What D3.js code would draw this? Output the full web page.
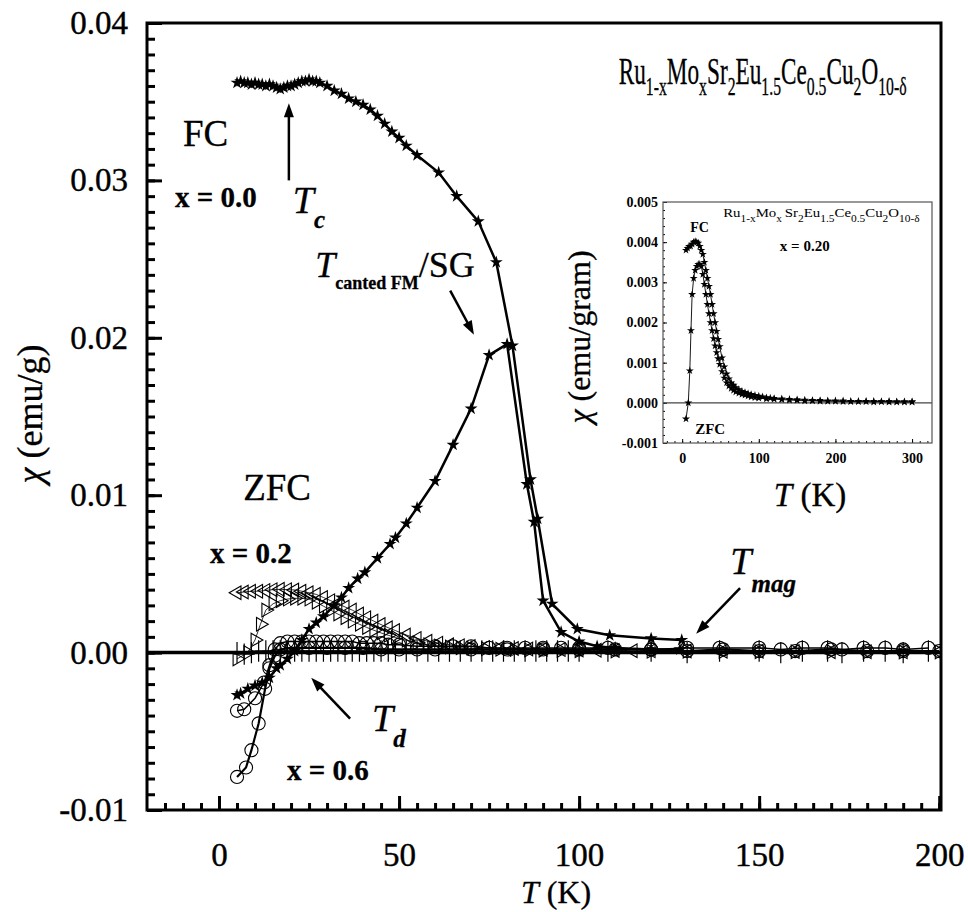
<!DOCTYPE html>
<html>
<head>
<meta charset="utf-8">
<script src="https://cdn.jsdelivr.net/npm/d3@7"></script>
<style>
  body { margin: 0; background: #fff; }
</style>
</head>
<body>
<script>
// x = 0.0, field cooled (stars)
var fc0T = [5,6,7,8,9,10,11,12,13,14,15,16,17,18,19,20,21,22,23,24,25,26,27,28,
            30,32,34,36,38,40,42,44,46,48,50,52,
            55,61,66,72,77,81.5,86.5,88.5,92.5,99.5,108.5,120,128.5];
var fc0V = [0.0362,0.0363,0.0362,0.0362,0.0361,0.0362,0.0361,0.0361,0.0360,0.0361,0.0360,0.0359,0.0358,0.0359,0.0360,0.0360,0.0361,0.0362,0.0363,0.0363,0.0364,0.0363,0.0363,0.0362,
            0.0360,0.0357,0.0355,0.0352,0.0350,0.0348,0.0345,0.0341,0.0336,0.0331,0.0327,0.0322,
            0.0316,0.0305,0.0290,0.0274,0.0248,0.0195,0.0110,0.0085,0.0031,0.0015,0.0011,0.0009,0.0008];
// x = 0.0, zero field cooled (stars)
var zfc0T = [5,6,8,10,12,14,16,17,19,21,23,25,27,29,32,34,36,38.5,40.5,44,
             47.5,49,52,55,60,65,70,75,80,85.5,87.5,90,95,100,105,110,120,128];
var zfc0V = [-0.0027,-0.0026,-0.0023,-0.0021,-0.0019,-0.0016,-0.0010,-0.0008,-0.0004,0.0001,
             0.0008,0.0015,0.0019,0.0023,0.0030,0.0035,0.0041,0.0047,0.0051,0.0060,
             0.0069,0.0073,0.0082,0.0092,0.0109,0.0132,0.0155,0.0189,0.0196,0.0107,
             0.0083,0.0033,0.0013,0.0007,0.0004,0.0003,0.0002,0.0002];
// x = 0.2, FC (left triangles in main plot, stars in inset)
var fc2T = [5,7,9,11,13,15,17,19,21,23,25,27,29,31,33,35,37,39,41,43,45,47,49,52,55,58,61,64,67,70,
            74,78,82,86,90,95,100,105,110,115,120,130,140,150,160,170,180,190,200,210,
            220,230,240,250,260,270,280,290,300];
var fc2V = [0.00380,0.00385,0.00390,0.00390,0.00395,0.00400,0.00402,0.00400,0.00398,0.00390,
            0.00380,0.00370,0.00350,0.00330,0.00310,0.00290,0.00270,0.00245,0.00222,0.00200,
            0.00178,0.00158,0.00140,0.00112,0.00090,0.00072,0.00060,0.00050,0.00044,0.00038,
            0.00033,0.00029,0.00026,0.00023,0.00021,0.00019,0.00017,0.00015,0.00013,0.00012,
            0.00011,0.00010,0.00009,0.00008,0.00007,0.00006,0.00006,0.00005,0.00005,0.00005,
            0.00004,0.00004,0.00004,0.00004,0.00003,0.00004,0.00003,0.00003,0.00003];
// x = 0.2, ZFC (right triangles in main plot, stars in inset)
var zfc2T = [5,8,10,11.5,13,15,17,19,21,23,25,27,29,31,33,35,37,39,41,43,45,47,49,52,55,58,61,64,67,70,
             74,78,82,86,90,95,100,110,120,130,140,150,160,170,180,190,200,210,220,230,
             240,250,260,270,280,290,300];
var zfc2V = [-0.00040,0.00000,0.00080,0.00180,0.00270,0.00310,0.00330,0.00340,0.00345,0.00345,
             0.00340,0.00320,0.00295,0.00270,0.00245,0.00222,0.00200,0.00180,0.00160,0.00142,
             0.00125,0.00110,0.00096,0.00078,0.00062,0.00050,0.00042,0.00036,0.00031,0.00027,
             0.00024,0.00021,0.00019,0.00017,0.00015,0.00013,0.00012,0.00010,0.00009,0.00008,
             0.00007,0.00006,0.00005,0.00005,0.00004,0.00004,0.00004,0.00003,0.00003,0.00003,
             0.00003,0.00002,0.00003,0.00002,0.00002,0.00002,0.00002];
// x = 0.6, FC (open circles)
var fc6T = [5,7,10,12.5,14,15.5,17,19,21,23,25,27,29,31,33,35,37,39,41,43,45,47,50,55,60,65,70,75,80,85,
            90,95,100,108,120,130,139,150,156,162,169,173,179,185,190,197];
var fc6V = [-0.0037,-0.0036,-0.0029,-0.0019,-0.0008,0.0002,0.0006,0.0007,0.0007,0.0007,
            0.0007,0.0007,0.0007,0.0007,0.0007,0.0007,0.0007,0.0006,0.0006,0.0006,
            0.0006,0.0005,0.0005,0.0004,0.0004,0.0004,0.0004,0.0003,0.0003,0.0003,
            0.0003,0.0003,0.0003,0.0003,0.0002,0.0003,0.0003,0.0003,0.0002,0.0003,
            0.0003,0.0002,0.0003,0.0003,0.0002,0.0003];
// x = 0.6, ZFC (open circles)
var zfc6T = [5,7.5,9,11,12.8,14,15.5,17,20,25,30,35,40,45,50,55,60,70,80,90,100,110,120,130,140,150,160,170,180,190,200];
var zfc6V = [-0.0079,-0.0073,-0.0062,-0.0045,-0.0023,-0.0010,-0.0002,0.0002,0.0003,0.0003,
             0.0003,0.0003,0.0003,0.0002,0.0002,0.0002,0.0002,0.0002,0.0002,0.0002,
             0.0002,0.0002,0.0002,0.0001,0.0002,0.0001,0.0001,0.0002,0.0001,0.0001,0.0001];
// crosses lying on the zero line
var crossT = [5,7,9,11,13,15,17,19,21,23,25,27,29,31,33,35,37,39,41,43,45,47,49,
              52,55,58,61,64,67,70,73,76,79,82,85,88,91,94,97,100,
              108,120,130,139,150,156,162,169,173,179,185,190,197];
var crossV = [0.0000,-0.0001,0.0000,0.0001,0.0001,0.0001,0.0001,0.0001,0.0001,0.0001,0.0001,0.0001,0.0001,
              0.0001,0.0001,0.0001,0.0001,0.0001,0.0001,0.0001,0.0001,0.0001,0.0001,
              0.0001,0.0001,0.0001,0.0001,0.0001,0.0001,0.0001,0.0001,0.0001,0.0001,0.0001,0.0001,0.0001,0.0001,0.0001,0.0001,0.0001,
              0.0001,0.0001,0.0000,0.0001,0.0001,0.0000,0.0001,0.0001,0.0000,0.0001,0.0001,0.0000,0.0001];

// ticks
var xTicks = [0, 50, 100, 150, 200];
var xTickLabels = ["0", "50", "100", "150", "200"];
var yTicks = [-0.01, 0, 0.01, 0.02, 0.03, 0.04];
var yTickLabels = ["-0.01", "0.00", "0.01", "0.02", "0.03", "0.04"];
var insetXTicks = [0, 100, 200, 300];
var insetXTickLabels = ["0", "100", "200", "300"];
var insetYTicks = [-0.001, 0, 0.001, 0.002, 0.003, 0.004, 0.005];
var insetYTickLabels = ["-0.001", "0.000", "0.001", "0.002", "0.003", "0.004", "0.005"];

var FONT = "Liberation Serif";

var svg = d3.select("body").append("svg").attr("width", 968).attr("height", 912)
  .attr("font-family", FONT);

var x = d3.scaleLinear().domain([-20, 200.5]).range([147, 941]);
var y = d3.scaleLinear().domain([-0.01, 0.04]).range([810, 23]);

function pairs(T, V) { return T.map(function(t, i) { return [t, V[i]]; }); }

function series(g, T, V, sx, sy, o) {
  var pts = pairs(T, V);
  if (o.line) {
    g.append("path").datum(pts)
      .attr("fill", "none").attr("stroke", "#000").attr("stroke-width", o.line)
      .attr("d", d3.line().x(function(d) { return sx(d[0]); }).y(function(d) { return sy(d[1]); }));
  }
  g.selectAll(null).data(pts).join("path")
    .attr("transform", function(d) { return "translate(" + sx(d[0]) + "," + sy(d[1]) + ") rotate(" + (o.rot || 0) + ")"; })
    .attr("d", o.sym)
    .attr("fill", o.fill || "#000")
    .attr("stroke", o.stroke || "none")
    .attr("stroke-width", o.sw || 0);
}

function rich(g, px, py, size, parts) {
  var t = g.append("text").attr("x", px).attr("y", py)
    .attr("font-family", FONT).attr("font-size", size).attr("fill", "#000");
  var cur = 0;
  parts.forEach(function(p) {
    var off = p.sub || 0;
    var s = t.append("tspan").text(p.t).attr("dy", off - cur);
    cur = off;
    if (p.size) s.attr("font-size", p.size);
    if (p.it) s.attr("font-style", "italic");
    if (p.b) s.attr("font-weight", "bold");
  });
  return t;
}

function fitWidth(t, w) {
  var bb = t.node().getBBox();
  var k = w / bb.width;
  t.attr("transform", "translate(" + bb.x + ",0) scale(" + k + ",1) translate(" + (-bb.x) + ",0)");
}

function arrow(g, x1, y1, x2, y2, lw) {
  var a = Math.atan2(y2 - y1, x2 - x1), L = 14, w = 5;
  var c = Math.cos(a), s = Math.sin(a);
  g.append("line").attr("x1", x1).attr("y1", y1).attr("x2", x2 - L * 0.7 * c).attr("y2", y2 - L * 0.7 * s)
    .attr("stroke", "#000").attr("stroke-width", lw || 2.5);
  g.append("path")
    .attr("d", "M" + x2 + "," + y2 +
      "L" + (x2 - L * c + w * s) + "," + (y2 - L * s - w * c) +
      "L" + (x2 - L * c - w * s) + "," + (y2 - L * s + w * c) + "Z")
    .attr("fill", "#000");
}

// ---------- main axes ----------
var gx = svg.append("g").attr("transform", "translate(0,810)");
gx.append("g").call(d3.axisBottom(x).tickValues(d3.range(-15, 201, 5)).tickSize(-7).tickFormat(""));
gx.append("g").call(d3.axisBottom(x).tickValues(xTicks).tickSize(-14).tickPadding(33)
  .tickFormat(function(d, i) { return xTickLabels[i]; }));

var gy = svg.append("g").attr("transform", "translate(147,0)");
gy.append("g").call(d3.axisLeft(y).tickValues(d3.range(-10, 41).map(function(v) { return v / 1000; })).tickSize(-8).tickFormat(""));
gy.append("g").call(d3.axisLeft(y).tickValues(yTicks).tickSize(-15).tickPadding(19)
  .tickFormat(function(d, i) { return yTickLabels[i]; }));

svg.selectAll(".domain").remove();
svg.selectAll("g").attr("font-family", FONT);
svg.selectAll(".tick line").attr("stroke", "#000").attr("stroke-width", 3);
svg.selectAll(".tick text").attr("font-family", FONT).attr("font-size", 33)
  .attr("stroke", "#000").attr("stroke-width", 0.4);

// axis titles
rich(svg, 0, 0, 36, [{t: "χ", it: true}, {t: " (emu/g)"}])
  .attr("transform", "translate(42,414) rotate(-90)").attr("text-anchor", "middle")
  .attr("stroke", "#000").attr("stroke-width", 0.3);
rich(svg, 556, 903, 32, [{t: "T", it: true}, {t: " (K)"}])
  .attr("text-anchor", "middle").attr("stroke", "#000").attr("stroke-width", 0.3);

// ---------- main data ----------
svg.append("clipPath").attr("id", "clipMain").append("rect")
  .attr("x", 147).attr("y", 23).attr("width", 794).attr("height", 787);
var plot = svg.append("g").attr("clip-path", "url(#clipMain)");

plot.append("line").attr("x1", x(-20)).attr("x2", x(200.5)).attr("y1", y(0)).attr("y2", y(0))
  .attr("stroke", "#000").attr("stroke-width", 3.5);

var starMain = d3.symbol().type(d3.symbolStar).size(52)();
var triMain = d3.symbol().type(d3.symbolTriangle).size(80)();
var circMain = d3.symbol().type(d3.symbolCircle).size(135)();
var plusMain = d3.symbol().type(d3.symbolPlus).size(150)();

series(plot, crossT, crossV, x, y, {sym: plusMain, fill: "none", stroke: "#000", sw: 1.2});
series(plot, zfc6T, zfc6V, x, y, {sym: circMain, fill: "none", stroke: "#000", sw: 1.1, line: 2.2});
series(plot, fc6T, fc6V, x, y, {sym: circMain, fill: "none", stroke: "#000", sw: 1.1, line: 1.5});
series(plot, zfc2T, zfc2V, x, y, {sym: triMain, rot: 90, fill: "none", stroke: "#000", sw: 1.1, line: 0.8});
series(plot, fc2T, fc2V, x, y, {sym: triMain, rot: -90, fill: "none", stroke: "#000", sw: 1.1, line: 0.8});
series(plot, zfc0T, zfc0V, x, y, {sym: starMain, line: 2.5});
series(plot, fc0T, fc0V, x, y, {sym: starMain, line: 2.5});

// frame
svg.append("rect").attr("x", 147).attr("y", 23).attr("width", 794).attr("height", 787)
  .attr("fill", "none").attr("stroke", "#000").attr("stroke-width", 3);

// ---------- annotations ----------
var ann = svg.append("g").attr("stroke", "#000").attr("stroke-width", 0.3);
var formula = rich(ann, x(111), y(0.0361), 37, [
  {t: "Ru"}, {t: "1-x", sub: 11, size: 25}, {t: "Mo"}, {t: "x", sub: 11, size: 25},
  {t: "Sr"}, {t: "2", sub: 11, size: 25}, {t: "Eu"}, {t: "1.5", sub: 11, size: 25},
  {t: "Ce"}, {t: "0.5", sub: 11, size: 25}, {t: "Cu"}, {t: "2", sub: 11, size: 25},
  {t: "O"}, {t: "10-δ", sub: 11, size: 25}]);
fitWidth(formula, 288);

rich(ann, x(-10), y(0.0322), 37, [{t: "FC"}]);
rich(ann, x(-12.2), y(0.0283), 29, [{t: "x = 0.0", b: true}]);
rich(ann, x(20.5), y(0.0279), 38, [{t: "T", it: true}, {t: "c", it: true, b: true, sub: 15, size: 25}]);
arrow(svg, x(19.4), y(0.0300), x(19.4), y(0.0349), 2.5);

rich(ann, x(26.7), y(0.02385), 36, [{t: "T", it: true},
  {t: "canted FM", b: true, sub: 12, size: 18}, {t: "/SG"}]);
arrow(svg, x(64.2), y(0.0230), x(70.8), y(0.0202), 2.5);

rich(ann, x(6.7), y(0.0097), 37, [{t: "ZFC"}]);
rich(ann, x(-2.5), y(0.0057), 29, [{t: "x = 0.2", b: true}]);
rich(ann, x(18.9), y(-0.0081), 29, [{t: "x = 0.6", b: true}]);

rich(ann, x(42.5), y(-0.0050), 38, [{t: "T", it: true}, {t: "d", it: true, b: true, sub: 16, size: 25}]);
arrow(svg, x(36.4), y(-0.0042), x(25.6), y(-0.0016), 2.5);

rich(ann, x(142), y(0.0050), 38, [{t: "T", it: true}, {t: "mag", it: true, b: true, sub: 18, size: 25}]);
arrow(svg, x(144.7), y(0.0041), x(132.5), y(0.0012), 2.5);

// ---------- inset ----------
var xi = d3.scaleLinear().domain([-25, 326]).range([663, 932]);
var yi = d3.scaleLinear().domain([-0.001, 0.005]).range([443, 202]);
var inset = svg.append("g");

var ix = inset.append("g").attr("transform", "translate(0,443)");
ix.append("g").call(d3.axisBottom(xi).tickValues(d3.range(-20, 321, 10)).tickSize(-2).tickFormat(""));
ix.append("g").call(d3.axisBottom(xi).tickValues(insetXTicks).tickSize(-4).tickPadding(10)
  .tickFormat(function(d, i) { return insetXTickLabels[i]; }));
var iy = inset.append("g").attr("transform", "translate(663,0)");
iy.append("g").call(d3.axisLeft(yi).tickValues(d3.range(-10, 51, 2).map(function(v) { return v / 10000; })).tickSize(-2).tickFormat(""));
iy.append("g").call(d3.axisLeft(yi).tickValues(insetYTicks).tickSize(-4).tickPadding(5)
  .tickFormat(function(d, i) { return insetYTickLabels[i]; }));
inset.selectAll(".domain").remove();
inset.selectAll("g").attr("font-family", FONT);
inset.selectAll(".tick line").attr("stroke", "#000").attr("stroke-width", 1);
inset.selectAll(".tick text").attr("font-family", FONT).attr("font-size", 14)
  .attr("font-weight", "bold").attr("stroke", "none");

svg.append("clipPath").attr("id", "clipInset").append("rect")
  .attr("x", 663).attr("y", 202).attr("width", 269).attr("height", 241);
var iplot = inset.append("g").attr("clip-path", "url(#clipInset)");
iplot.append("line").attr("x1", 663).attr("x2", 932).attr("y1", yi(0)).attr("y2", yi(0))
  .attr("stroke", "#444").attr("stroke-width", 1.2);
var starInset = d3.symbol().type(d3.symbolStar).size(20)();
series(iplot, zfc2T, zfc2V, xi, yi, {sym: starInset, line: 0.9});
series(iplot, fc2T, fc2V, xi, yi, {sym: starInset, line: 0.9});

inset.append("rect").attr("x", 663).attr("y", 202).attr("width", 269).attr("height", 241)
  .attr("fill", "none").attr("stroke", "#555").attr("stroke-width", 1.2);

var iform = rich(inset, xi(53.5), yi(0.00463), 13, [
  {t: "Ru"}, {t: "1-x", sub: 5, size: 10}, {t: "Mo"}, {t: "x ", sub: 5, size: 10},
  {t: "Sr"}, {t: "2", sub: 5, size: 10}, {t: "Eu"}, {t: "1.5", sub: 5, size: 10},
  {t: "Ce"}, {t: "0.5", sub: 5, size: 10}, {t: "Cu"}, {t: "2", sub: 5, size: 10},
  {t: "O"}, {t: "10-δ", sub: 5, size: 10}]);
fitWidth(iform, 197);
rich(inset, xi(160), yi(0.00378), 15, [{t: "x = 0.20", b: true}]).attr("text-anchor", "middle");
rich(inset, xi(10.4), yi(0.00426), 14, [{t: "FC", b: true}]);
rich(inset, xi(17), yi(-0.00077), 15, [{t: "ZFC", b: true}]);

rich(inset, 0, 0, 32, [{t: "χ", it: true}, {t: " (emu/gram)"}])
  .attr("transform", "translate(590,337) rotate(-90)").attr("text-anchor", "middle")
  .attr("stroke", "#000").attr("stroke-width", 0.3);
rich(inset, 810, 506, 33, [{t: "T", it: true}, {t: " (K)"}])
  .attr("text-anchor", "middle").attr("stroke", "#000").attr("stroke-width", 0.3);
</script>
</body>
</html>
